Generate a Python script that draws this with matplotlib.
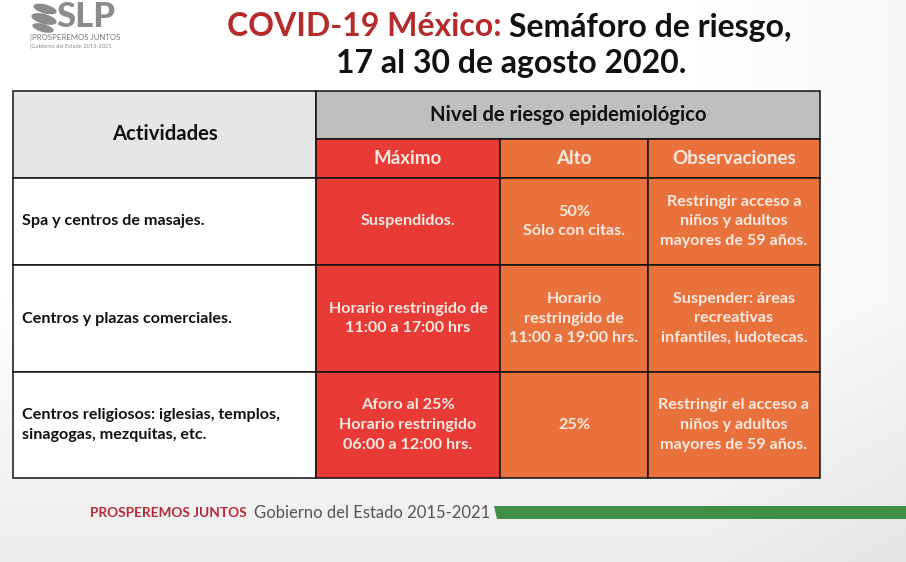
import matplotlib
matplotlib.use("Agg")
import matplotlib.pyplot as plt
import numpy as np
from matplotlib.patches import Rectangle, Polygon, Ellipse

# ---- data ----
actividades = [
    "Spa y centros de masajes.",
    "Centros y plazas comerciales.",
    "Centros religiosos: iglesias, templos,\nsinagogas, mezquitas, etc.",
]
maximo = [
    "Suspendidos.",
    "Horario restringido de\n11:00 a 17:00 hrs",
    "Aforo al 25%\nHorario restringido\n06:00 a 12:00 hrs.",
]
alto = [
    "50%\nSólo con citas.",
    "Horario\nrestringido de\n11:00 a 19:00 hrs.",
    "25%",
]
observaciones = [
    "Restringir acceso a\nniños y adultos\nmayores de 59 años.",
    "Suspender: áreas\nrecreativas\ninfantiles, ludotecas.",
    "Restringir el acceso a\nniños y adultos\nmayores de 59 años.",
]
header_left = "Actividades"
header_top = "Nivel de riesgo epidemiológico"
level_headers = ["Máximo", "Alto", "Observaciones"]
title_red = "COVID-19 México: "
title_black = "Semáforo de riesgo,"
title_line2 = "17 al 30 de agosto 2020."

FONT = ["Lato", "DejaVu Sans"]
plt.rcParams["font.family"] = FONT

W, H = 906, 562
fig = plt.figure(figsize=(W / 100, H / 100), dpi=100)
ax = fig.add_axes([0, 0, 1, 1])
ax.set_xlim(0, W)
ax.set_ylim(H, 0)
ax.axis("off")

# background subtle gradient
yy, xx = np.mgrid[0:H, 0:W]
grad = 1.0 - 0.07 * np.clip((yy - 300) / 262, 0, 1) - 0.03 * np.clip((xx - 700) / 206, 0, 1)
bg = np.dstack([grad, grad, grad])
ax.imshow(bg, extent=[0, W, H, 0], aspect="auto", zorder=0)

# table geometry (pixels)
cols = [13, 316, 500, 648, 820]
rows = [91, 139, 178, 265, 372, 478]
RED = "#e83b36"
ORANGE = "#e9713b"
LGRAY = "#e6e6e6"
MGRAY = "#bfbfbf"
TXT_LIGHT = "#fbe9e0"
lw = 1.1

def cell(x0, x1, y0, y1, color):
    ax.add_patch(Rectangle((x0, y0), x1 - x0, y1 - y0, facecolor=color,
                           edgecolor="#111111", linewidth=lw, zorder=2))

cell(cols[0], cols[1], rows[0], rows[2], LGRAY)
cell(cols[1], cols[4], rows[0], rows[1], MGRAY)
level_colors = [RED, ORANGE, ORANGE]
for j in range(3):
    cell(cols[j + 1], cols[j + 2], rows[1], rows[2], level_colors[j])
for i in range(3):
    cell(cols[0], cols[1], rows[i + 2], rows[i + 3], "white")
    for j in range(3):
        cell(cols[j + 1], cols[j + 2], rows[i + 2], rows[i + 3], level_colors[j])

ax.text((cols[0] + cols[1]) / 2, (rows[0] + rows[2]) / 2, header_left,
        ha="center", va="center", fontsize=14.6, fontweight="bold", color="#111111", zorder=3)
ax.text((cols[1] + cols[4]) / 2, (rows[0] + rows[1]) / 2, header_top,
        ha="center", va="center", fontsize=14.6, fontweight="bold", color="#111111", zorder=3)
for j, lab in enumerate(level_headers):
    ax.text((cols[j + 1] + cols[j + 2]) / 2, (rows[1] + rows[2]) / 2, lab,
            ha="center", va="center", fontsize=13.5, fontweight="bold", color=TXT_LIGHT, zorder=3)

cells_txt = [maximo, alto, observaciones]
for i in range(3):
    yc = (rows[i + 2] + rows[i + 3]) / 2
    ax.text(cols[0] + 9, yc, actividades[i], ha="left", va="center", fontsize=11.6,
            fontweight="bold", color="#111111", linespacing=1.55, zorder=3)
    for j in range(3):
        ax.text((cols[j + 1] + cols[j + 2]) / 2, yc, cells_txt[j][i], ha="center",
                va="center", fontsize=11.6, fontweight="bold", color=TXT_LIGHT,
                linespacing=1.52, zorder=3)

# title
fig.canvas.draw()
r = fig.canvas.get_renderer()
t1 = ax.text(0, 27, title_red, fontsize=23, fontweight="bold", color="#b52a2a",
             ha="left", va="center", zorder=3)
t2 = ax.text(0, 27, title_black, fontsize=23, fontweight="bold", color="#111111",
             ha="left", va="center", zorder=3)
w1 = t1.get_window_extent(r).width
w2 = t2.get_window_extent(r).width
x_start = 509 - (w1 + w2) / 2
t1.set_x(x_start)
t2.set_x(x_start + w1)
ax.text(511, 63, title_line2, fontsize=23, fontweight="bold", color="#111111",
        ha="center", va="center", zorder=3)

# logo
LOGO = "#8c8c8c"
ax.text(86, 17, "SLP", fontsize=25, fontweight="black", color=LOGO,
        ha="center", va="center", zorder=3)
for (cx, cy, w, h, ang) in [(45, 9, 24, 9, 15), (44, 19, 26, 10, 15), (43, 28, 22, 8, 15)]:
    ax.add_patch(Ellipse((cx, cy), w, h, angle=ang, facecolor=LOGO, edgecolor="none", zorder=3))
ax.text(30, 37, "|PROSPEREMOS JUNTOS", fontsize=5.6, color="#777777",
        ha="left", va="center", zorder=3)
ax.text(30, 46, "|Gobierno del Estado 2015-2021", fontsize=4.1, color="#888888",
        ha="left", va="center", zorder=3)

# footer
f1 = ax.text(90, 513, "PROSPEREMOS JUNTOS", fontsize=9.8, fontweight="bold",
             color="#b52a3a", ha="left", va="center", zorder=3)
fw = f1.get_window_extent(r).width
ax.text(90 + fw + 7, 513, "Gobierno del Estado 2015-2021", fontsize=12,
        color="#555555", ha="left", va="center", zorder=3)
ax.add_patch(Polygon([[494, 506], [906, 506], [906, 519], [497, 519]], closed=True,
                     facecolor="#3f8f46", edgecolor="none", zorder=3))

fig.savefig("out.png", dpi=100)
